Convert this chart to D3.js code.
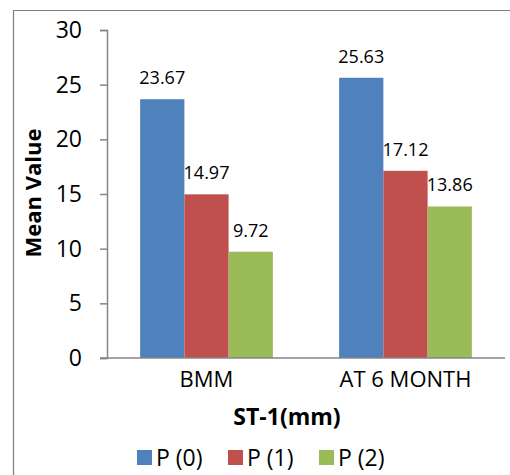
<!DOCTYPE html>
<html>
<head>
<meta charset="utf-8">
<script src="https://cdn.jsdelivr.net/npm/d3@7"></script>
<style>
  body { margin: 0; background: #fff; }
  svg text { font-family: "Open Sans", "Liberation Sans", sans-serif; fill: #000; }
</style>
</head>
<body>
<div id="chart"></div>
<script>
const CATEGORIES = ["BMM", "AT 6 MONTH"];
const SERIES = ["P (0)", "P (1)", "P (2)"];
const P0 = [23.67, 25.63];
const P1 = [14.97, 17.12];
const P2 = [9.72, 13.86];
const Y_TICKS = [0, 5, 10, 15, 20, 25, 30];
const COLORS = ["#4F81BD", "#C0504D", "#9BBB59"];

const WIDTH = 510;
const HEIGHT = 475;
const LEFT = 107;
const RIGHT = 505;
const TOP = 30;
const BOTTOM = 358;

let values = [P0, P1, P2];
let rows = [];
CATEGORIES.forEach((c, i) => {
    SERIES.forEach((s, j) => {
        rows.push({cat: c, series: s, idx: j, value: values[j][i]});
    });
});

const Y_SCALE = d3.scaleLinear()
                  .domain([0, 30])
                  .range([BOTTOM, TOP]);
const X_SCALE = d3.scaleBand()
                  .domain(CATEGORIES)
                  .range([LEFT, RIGHT])
                  .paddingInner(0.333)
                  .paddingOuter(0.1665);
const INNER = d3.scaleBand()
                .domain(SERIES)
                .range([0, X_SCALE.bandwidth()]);

let svg = d3.select('#chart')
            .append('svg')
            .attr('width', WIDTH)
            .attr('height', HEIGHT);

// outer frame (only top and left edges are visible in the crop)
svg.append('path')
   .attr('d', 'M13.5,' + HEIGHT + ' V10.5 H' + WIDTH)
   .attr('fill', 'none')
   .attr('stroke', '#7f7f7f')
   .attr('stroke-width', 1.2);

// bars
svg.selectAll('rect.bar')
   .data(rows)
   .enter()
   .append('rect')
   .attr('class', 'bar')
   .attr('x', d => X_SCALE(d.cat) + INNER(d.series))
   .attr('y', d => Y_SCALE(d.value))
   .attr('width', INNER.bandwidth())
   .attr('height', d => BOTTOM - Y_SCALE(d.value))
   .attr('fill', d => COLORS[d.idx]);

// value labels
svg.selectAll('text.val')
   .data(rows)
   .enter()
   .append('text')
   .attr('class', 'val')
   .attr('x', d => X_SCALE(d.cat) + INNER(d.series) + INNER.bandwidth() / 2)
   .attr('y', d => Y_SCALE(d.value) - 15)
   .attr('text-anchor', 'middle')
   .attr('font-size', 18)
   .text(d => d.value.toFixed(2));

// y axis
let yAxis = svg.append('g')
   .attr('transform', 'translate(' + LEFT + ',0)')
   .call(d3.axisLeft(Y_SCALE).tickValues(Y_TICKS).tickSize(7).tickPadding(18));
yAxis.select('.domain').attr('stroke', '#868686').attr('stroke-width', 1.5);
yAxis.selectAll('.tick line').attr('stroke', '#868686').attr('stroke-width', 1.5);
yAxis.selectAll('.tick text')
     .attr('font-size', 23)
     .attr('font-family', '"Open Sans", "Liberation Sans", sans-serif')
     .attr('fill', '#000');

// x axis
let xAxis = svg.append('g')
   .attr('transform', 'translate(0,' + BOTTOM + ')')
   .call(d3.axisBottom(X_SCALE).tickSize(0).tickPadding(13));
xAxis.select('.domain')
     .attr('d', 'M' + (LEFT - 7) + ',0H' + RIGHT)
     .attr('stroke', '#868686')
     .attr('stroke-width', 1.5);
xAxis.selectAll('.tick text')
     .attr('font-size', 22)
     .attr('font-family', '"Open Sans", "Liberation Sans", sans-serif')
     .attr('fill', '#000');

// axis titles
svg.append('text')
   .attr('transform', 'translate(41,193) rotate(-90)')
   .attr('text-anchor', 'middle')
   .attr('font-size', 22)
   .attr('font-weight', 'bold')
   .text('Mean Value');

svg.append('text')
   .attr('x', 287)
   .attr('y', 425)
   .attr('text-anchor', 'middle')
   .attr('font-size', 23)
   .attr('font-weight', 'bold')
   .text('ST-1(mm)');

// legend
const LEGEND_X = [137, 228, 319];
let legend = svg.selectAll('g.legend')
   .data(SERIES)
   .enter()
   .append('g')
   .attr('class', 'legend')
   .attr('transform', (d, i) => 'translate(' + LEGEND_X[i] + ',450)');
legend.append('rect')
      .attr('width', 15)
      .attr('height', 15)
      .attr('fill', (d, i) => COLORS[i]);
legend.append('text')
      .attr('x', 19)
      .attr('y', 16)
      .attr('font-size', 23)
      .text(d => d);
</script>
</body>
</html>
